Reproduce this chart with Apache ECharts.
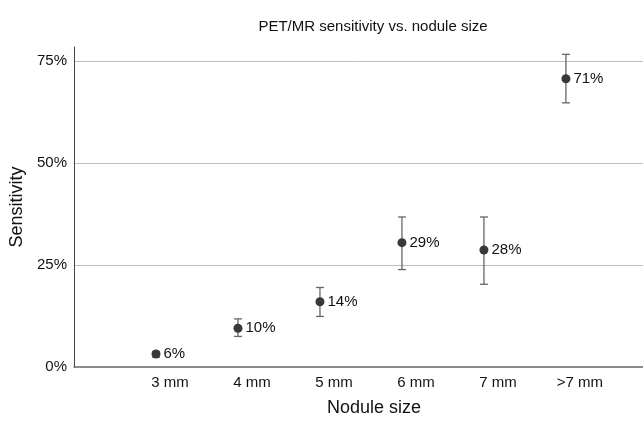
<!DOCTYPE html>
<html>
<head>
<meta charset="utf-8">
<script src="https://cdn.jsdelivr.net/npm/echarts@6/dist/echarts.min.js"></script>
<style>
html,body{margin:0;padding:0;background:#fff;}
#chart{width:643px;height:422px;}
</style>
</head>
<body>
<div id="chart"></div>
<script>
// Data
var categories = ['3 mm', '4 mm', '5 mm', '6 mm', '7 mm', '>7 mm'];
var sensitivity = [3.2, 9.5, 16.0, 30.5, 28.7, 70.7];   // point positions (%)
var ciLower = [2.4, 7.5, 12.4, 23.9, 20.3, 64.8];       // lower error bar (%)
var ciUpper = [3.8, 11.8, 19.5, 36.8, 36.8, 76.7];      // upper error bar (%)
var pointLabels = ['6%', '10%', '14%', '29%', '28%', '71%'];
var yTicks = [0, 25, 50, 75];

var FONT = '"Liberation Sans", Arial, sans-serif';
var chart = echarts.init(document.getElementById('chart'), null, {renderer: 'canvas'});

var pointData = sensitivity.map(function (v, i) { return [i + 1, v]; });
var errData = categories.map(function (c, i) { return [i + 1, ciLower[i], ciUpper[i]]; });

var option = {
  backgroundColor: '#ffffff',
  animation: false,
  title: {
    text: 'PET/MR sensitivity vs. nodule size',
    left: 368, top: 14, textAlign: 'center',
    textStyle: {fontFamily: FONT, fontSize: 15, fontWeight: 'normal', color: '#111'}
  },
  grid: {left: 74, right: 0, top: 47, bottom: 54, containLabel: false},
  xAxis: {
    type: 'value', min: 0, max: 6.94, interval: 1,
    name: 'Nodule size', nameLocation: 'middle', nameGap: 32,
    nameTextStyle: {fontFamily: FONT, fontSize: 18, color: '#111', padding: [0, 0, 0, 31]},
    axisLine: {show: true, lineStyle: {color: '#666', width: 1.5}},
    axisTick: {show: false},
    splitLine: {show: false},
    axisLabel: {
      fontFamily: FONT, fontSize: 15, color: '#111', margin: 8,
      padding: [0, 0, 0, 28],
      showMaxLabel: false, showMinLabel: false,
      formatter: function (v) {
        var i = Math.round(v) - 1;
        return (Math.abs(v - Math.round(v)) < 1e-6 && i >= 0 && i < categories.length) ? categories[i] : '';
      }
    }
  },
  yAxis: {
    type: 'value', min: 0, max: 78.5, interval: 25,
    name: 'Sensitivity', nameLocation: 'middle', nameGap: 48,
    nameTextStyle: {fontFamily: FONT, fontSize: 18, color: '#111'},
    axisLine: {show: true, lineStyle: {color: '#444', width: 1}},
    axisTick: {show: false},
    splitLine: {show: true, showMinLine: false, showMaxLine: false, lineStyle: {color: '#bdbdbd', width: 1}},
    axisLabel: {
      fontFamily: FONT, fontSize: 15, color: '#111', margin: 7,
      showMaxLabel: false,
      formatter: function (v) { return yTicks.indexOf(v) >= 0 ? v + '%' : ''; }
    }
  },
  series: [
    {
      type: 'custom',
      data: errData,
      z: 2,
      renderItem: function (params, api) {
        var x = api.value(0);
        var lo = api.coord([x, api.value(1)]);
        var hi = api.coord([x, api.value(2)]);
        var cap = 4;
        var style = {stroke: '#666666', lineWidth: 1.3};
        return {
          type: 'group',
          children: [
            {type: 'line', shape: {x1: lo[0], y1: lo[1], x2: hi[0], y2: hi[1]}, style: style},
            {type: 'line', shape: {x1: hi[0] - cap, y1: hi[1], x2: hi[0] + cap, y2: hi[1]}, style: style},
            {type: 'line', shape: {x1: lo[0] - cap, y1: lo[1], x2: lo[0] + cap, y2: lo[1]}, style: style}
          ]
        };
      }
    },
    {
      type: 'scatter',
      data: pointData,
      z: 3,
      symbol: 'circle',
      symbolSize: 9,
      itemStyle: {color: '#383838', opacity: 1},
      label: {
        show: true, position: 'right', distance: 3,
        fontFamily: FONT, fontSize: 15, color: '#111',
        formatter: function (p) { return pointLabels[p.dataIndex]; }
      }
    }
  ]
};
chart.setOption(option);
</script>
</body>
</html>
